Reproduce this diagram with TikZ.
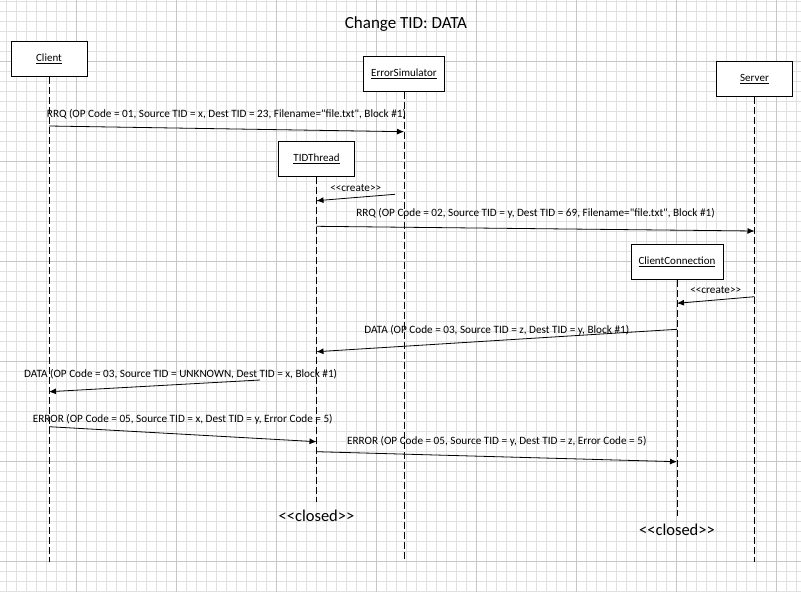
\documentclass[tikz,border=0pt]{standalone}
\usepackage{fontspec}
\setmainfont{Carlito}[Ligatures=TeXOff]
\usetikzlibrary{arrows.meta,positioning}

\begin{document}
\begin{tikzpicture}[x=1pt,y=-1pt,>={Latex[length=7pt,width=6pt]},line width=0.8pt,
  obj/.style={draw,fill=white,minimum width=76pt,minimum height=35pt,inner xsep=2pt,font=\fontsize{11}{13}\selectfont},
  life/.style={line width=0.7pt,dash pattern=on 7pt off 3pt},
  msg/.style={font=\fontsize{11.2}{13}\selectfont,inner sep=0pt},
  closed/.style={font=\fontsize{16.5}{18}\selectfont,inner sep=0pt}]
  \useasboundingbox (0,0) rectangle (801,592);
  \fill[white] (0,0) rectangle (801,592);
  \foreach \x in {6.7,16.7,...,800} \draw[black!12,line width=0.6pt] (\x,0) -- (\x,592);
  \foreach \y in {1.7,11.7,...,592} \draw[black!12,line width=0.6pt] (0,\y) -- (801,\y);
  \foreach \x in {76.7,176.7,...,800} \draw[black!22,line width=0.6pt] (\x,0) -- (\x,592);
  \foreach \y in {61.7,161.7,...,592} \draw[black!22,line width=0.6pt] (0,\y) -- (801,\y);

  \node[font=\fontsize{17}{19}\selectfont] (title) at (406,24) {Change TID: DATA};

  \node[obj] (client) at (49,59) {\underline{Client}};
  \node[obj,minimum width=81pt] (errsim) at (404,74) {\underline{ErrorSimulator}};
  \node[obj] (server) at (754.5,79) {\underline{Server}};
  \node[obj] (tid) at (316.5,159) {\underline{TIDThread}};
  \node[obj,minimum width=92pt] (cc) at (677,262) {\underline{ClientConnection}};

  \coordinate (clientend) at (client.south |- 0,561.7);
  \coordinate (errsimend) at (errsim.south |- 0,561.7);
  \coordinate (serverend) at (server.south |- 0,561.7);
  \coordinate (tidend) at (tid.south |- 0,502);
  \coordinate (ccend) at (cc.south |- 0,516);
  \draw[life] (client.south) -- (clientend);
  \draw[life] (errsim.south) -- (errsimend);
  \draw[life] (server.south) -- (serverend);
  \draw[life] (tid.south) -- (tidend);
  \draw[life] (cc.south) -- (ccend);

  \node[closed,below=7.5pt of tidend] (tidclosed) {<<closed>>};
  \node[closed,below=7.5pt of ccend] (ccclosed) {<<closed>>};

  \coordinate (rrqa) at (client.south |- 0,126);
  \coordinate (rrqb) at (errsim.south |- 0,131.7);
  \coordinate (crta) at (395,194.3);
  \coordinate (crtb) at (tid.south |- 0,200.7);
  \coordinate (rrqc) at (tid.south |- 0,226.3);
  \coordinate (rrqd) at (server.south |- 0,231);
  \coordinate (crtc) at (server.south |- 0,296.7);
  \coordinate (crtd) at (cc.south |- 0,303.3);
  \coordinate (dataa) at (cc.south |- 0,329.3);
  \coordinate (datab) at (tid.south |- 0,351.7);
  \coordinate (datac) at (260,380);
  \coordinate (datad) at (client.south |- 0,391.7);
  \coordinate (erra) at (client.south |- 0,426.7);
  \coordinate (errb) at (tid.south |- 0,441.7);
  \coordinate (errc) at (tid.south |- 0,451.7);
  \coordinate (errd) at (cc.south |- 0,461.7);

  \draw[->] (rrqa) -- (rrqb) node[msg,midway,yshift=15pt] {RRQ (OP Code = 01, Source TID = x, Dest TID = 23, Filename="file.txt", Block \#1)};
  \draw[->] (crta) -- (crtb) node[msg,midway,yshift=10pt] {<<create>>};
  \draw[->] (rrqc) -- (rrqd) node[msg,midway,yshift=15pt] {RRQ (OP Code = 02, Source TID = y, Dest TID = 69, Filename="file.txt", Block \#1)};
  \draw[->] (crtc) -- (crtd) node[msg,midway,yshift=10pt] {<<create>>};
  \draw[->] (dataa) -- (datab) node[msg,midway,yshift=10pt] {DATA (OP Code = 03, Source TID = z, Dest TID = y, Block \#1)};
  \draw[->] (datac) -- (datad) node[msg,pos=0.376,yshift=10.4pt] {DATA (OP Code = 03, Source TID = UNKNOWN, Dest TID = x, Block \#1)};
  \draw[->] (erra) -- (errb) node[msg,midway,yshift=15pt] {ERROR (OP Code = 05, Source TID = x, Dest TID = y, Error Code = 5)};
  \draw[->] (errc) -- (errd) node[msg,midway,yshift=15pt] {ERROR (OP Code = 05, Source TID = y, Dest TID = z, Error Code = 5)};
\end{tikzpicture}
\end{document}
